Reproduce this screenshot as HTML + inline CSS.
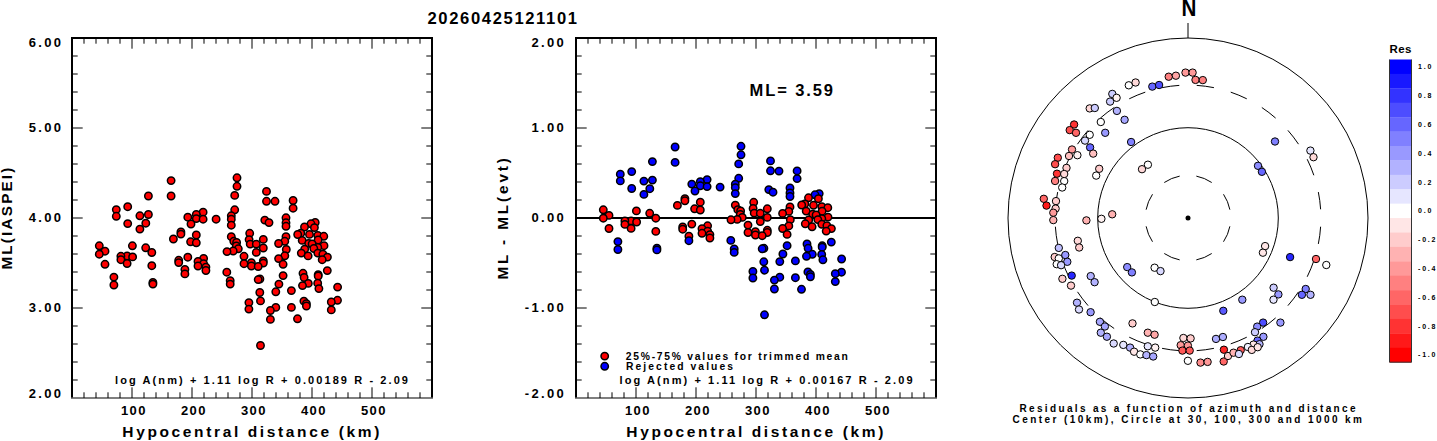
<!DOCTYPE html><html><head><meta charset="utf-8"><style>html,body{margin:0;padding:0;background:#fff;overflow:hidden}svg{display:block}</style></head><body><svg width="1437" height="441" viewBox="0 0 1437 441">
<rect width="1437" height="441" fill="#fff"/>
<g font-family="Liberation Sans, sans-serif" font-weight="bold" fill="#000">
<path d="M84 38v5.7M84 398v-5.7M96 38v5.7M96 398v-5.7M108 38v5.7M108 398v-5.7M120 38v5.7M120 398v-5.7M132 38v10.7M132 398v-10.7M144 38v5.7M144 398v-5.7M156 38v5.7M156 398v-5.7M168 38v5.7M168 398v-5.7M180 38v5.7M180 398v-5.7M192 38v10.7M192 398v-10.7M204 38v5.7M204 398v-5.7M216 38v5.7M216 398v-5.7M228 38v5.7M228 398v-5.7M240 38v5.7M240 398v-5.7M252 38v10.7M252 398v-10.7M264 38v5.7M264 398v-5.7M276 38v5.7M276 398v-5.7M288 38v5.7M288 398v-5.7M300 38v5.7M300 398v-5.7M312 38v10.7M312 398v-10.7M324 38v5.7M324 398v-5.7M336 38v5.7M336 398v-5.7M348 38v5.7M348 398v-5.7M360 38v5.7M360 398v-5.7M372 38v10.7M372 398v-10.7M384 38v5.7M384 398v-5.7M396 38v5.7M396 398v-5.7M408 38v5.7M408 398v-5.7M420 38v5.7M420 398v-5.7M72 56h5.7M432 56h-5.7M72 74h5.7M432 74h-5.7M72 92h5.7M432 92h-5.7M72 110h5.7M432 110h-5.7M72 128h10.7M432 128h-10.7M72 146h5.7M432 146h-5.7M72 164h5.7M432 164h-5.7M72 182h5.7M432 182h-5.7M72 200h5.7M432 200h-5.7M72 218h10.7M432 218h-10.7M72 236h5.7M432 236h-5.7M72 254h5.7M432 254h-5.7M72 272h5.7M432 272h-5.7M72 290h5.7M432 290h-5.7M72 308h10.7M432 308h-10.7M72 326h5.7M432 326h-5.7M72 344h5.7M432 344h-5.7M72 362h5.7M432 362h-5.7M72 380h5.7M432 380h-5.7" stroke="#000" stroke-width="1" fill="none"/>
<path d="M72 397.5V38H432V397.5" stroke="#000" stroke-width="2" fill="none"/>
<path d="M71 398H433" stroke="#000" stroke-width="1.2" fill="none"/>
<path d="M588 38v5.7M588 398v-5.7M600 38v5.7M600 398v-5.7M612 38v5.7M612 398v-5.7M624 38v5.7M624 398v-5.7M636 38v10.7M636 398v-10.7M648 38v5.7M648 398v-5.7M660 38v5.7M660 398v-5.7M672 38v5.7M672 398v-5.7M684 38v5.7M684 398v-5.7M696 38v10.7M696 398v-10.7M708 38v5.7M708 398v-5.7M720 38v5.7M720 398v-5.7M732 38v5.7M732 398v-5.7M744 38v5.7M744 398v-5.7M756 38v10.7M756 398v-10.7M768 38v5.7M768 398v-5.7M780 38v5.7M780 398v-5.7M792 38v5.7M792 398v-5.7M804 38v5.7M804 398v-5.7M816 38v10.7M816 398v-10.7M828 38v5.7M828 398v-5.7M840 38v5.7M840 398v-5.7M852 38v5.7M852 398v-5.7M864 38v5.7M864 398v-5.7M876 38v10.7M876 398v-10.7M888 38v5.7M888 398v-5.7M900 38v5.7M900 398v-5.7M912 38v5.7M912 398v-5.7M924 38v5.7M924 398v-5.7M576 56h5.7M936 56h-5.7M576 74h5.7M936 74h-5.7M576 92h5.7M936 92h-5.7M576 110h5.7M936 110h-5.7M576 128h10.7M936 128h-10.7M576 146h5.7M936 146h-5.7M576 164h5.7M936 164h-5.7M576 182h5.7M936 182h-5.7M576 200h5.7M936 200h-5.7M576 218h10.7M936 218h-10.7M576 236h5.7M936 236h-5.7M576 254h5.7M936 254h-5.7M576 272h5.7M936 272h-5.7M576 290h5.7M936 290h-5.7M576 308h10.7M936 308h-10.7M576 326h5.7M936 326h-5.7M576 344h5.7M936 344h-5.7M576 362h5.7M936 362h-5.7M576 380h5.7M936 380h-5.7" stroke="#000" stroke-width="1" fill="none"/>
<path d="M576 397.5V38H936V397.5" stroke="#000" stroke-width="2" fill="none"/>
<path d="M575 398H937" stroke="#000" stroke-width="1.2" fill="none"/>
<path d="M576 218H936" stroke="#000" stroke-width="2"/>
<circle cx="237" cy="177.8" r="3.7" fill="#f00" stroke="#000" stroke-width="1.5"/>
<circle cx="171.1" cy="180.6" r="3.7" fill="#f00" stroke="#000" stroke-width="1.5"/>
<circle cx="237" cy="186.3" r="3.7" fill="#f00" stroke="#000" stroke-width="1.5"/>
<circle cx="266.5" cy="191.4" r="3.7" fill="#f00" stroke="#000" stroke-width="1.5"/>
<circle cx="234.7" cy="195.4" r="3.7" fill="#f00" stroke="#000" stroke-width="1.5"/>
<circle cx="148.4" cy="196.0" r="3.7" fill="#f00" stroke="#000" stroke-width="1.5"/>
<circle cx="171.1" cy="196.0" r="3.7" fill="#f00" stroke="#000" stroke-width="1.5"/>
<circle cx="293.1" cy="200.5" r="3.7" fill="#f00" stroke="#000" stroke-width="1.5"/>
<circle cx="266.5" cy="201.3" r="3.7" fill="#f00" stroke="#000" stroke-width="1.5"/>
<circle cx="275" cy="201.3" r="3.7" fill="#f00" stroke="#000" stroke-width="1.5"/>
<circle cx="127.7" cy="206.7" r="3.7" fill="#f00" stroke="#000" stroke-width="1.5"/>
<circle cx="293.1" cy="208.2" r="3.7" fill="#f00" stroke="#000" stroke-width="1.5"/>
<circle cx="116.3" cy="209.6" r="3.7" fill="#f00" stroke="#000" stroke-width="1.5"/>
<circle cx="234.7" cy="209.8" r="3.7" fill="#f00" stroke="#000" stroke-width="1.5"/>
<circle cx="203.1" cy="212.2" r="3.7" fill="#f00" stroke="#000" stroke-width="1.5"/>
<circle cx="196.3" cy="214.4" r="3.7" fill="#f00" stroke="#000" stroke-width="1.5"/>
<circle cx="148.4" cy="214.5" r="3.7" fill="#f00" stroke="#000" stroke-width="1.5"/>
<circle cx="139.9" cy="215.8" r="3.7" fill="#f00" stroke="#000" stroke-width="1.5"/>
<circle cx="231.3" cy="215.8" r="3.7" fill="#f00" stroke="#000" stroke-width="1.5"/>
<circle cx="116.3" cy="216.3" r="3.7" fill="#f00" stroke="#000" stroke-width="1.5"/>
<circle cx="187.8" cy="217.2" r="3.7" fill="#f00" stroke="#000" stroke-width="1.5"/>
<circle cx="286" cy="217.8" r="3.7" fill="#f00" stroke="#000" stroke-width="1.5"/>
<circle cx="196.3" cy="218.6" r="3.7" fill="#f00" stroke="#000" stroke-width="1.5"/>
<circle cx="203.1" cy="219.2" r="3.7" fill="#f00" stroke="#000" stroke-width="1.5"/>
<circle cx="216.1" cy="219.2" r="3.7" fill="#f00" stroke="#000" stroke-width="1.5"/>
<circle cx="231.3" cy="219.2" r="3.7" fill="#f00" stroke="#000" stroke-width="1.5"/>
<circle cx="264.8" cy="220.1" r="3.7" fill="#f00" stroke="#000" stroke-width="1.5"/>
<circle cx="315.2" cy="222.5" r="3.7" fill="#f00" stroke="#000" stroke-width="1.5"/>
<circle cx="269" cy="222.6" r="3.7" fill="#f00" stroke="#000" stroke-width="1.5"/>
<circle cx="286" cy="222.8" r="3.7" fill="#f00" stroke="#000" stroke-width="1.5"/>
<circle cx="145.8" cy="223.2" r="3.7" fill="#f00" stroke="#000" stroke-width="1.5"/>
<circle cx="127.7" cy="223.6" r="3.7" fill="#f00" stroke="#000" stroke-width="1.5"/>
<circle cx="311" cy="223.8" r="3.7" fill="#f00" stroke="#000" stroke-width="1.5"/>
<circle cx="191" cy="224" r="3.7" fill="#f00" stroke="#000" stroke-width="1.5"/>
<circle cx="231.3" cy="225.2" r="3.7" fill="#f00" stroke="#000" stroke-width="1.5"/>
<circle cx="286" cy="226.3" r="3.7" fill="#f00" stroke="#000" stroke-width="1.5"/>
<circle cx="304.5" cy="227" r="3.7" fill="#f00" stroke="#000" stroke-width="1.5"/>
<circle cx="314.4" cy="227.6" r="3.7" fill="#f00" stroke="#000" stroke-width="1.5"/>
<circle cx="139.9" cy="229.1" r="3.7" fill="#f00" stroke="#000" stroke-width="1.5"/>
<circle cx="180.9" cy="231.9" r="3.7" fill="#f00" stroke="#000" stroke-width="1.5"/>
<circle cx="300.8" cy="233.2" r="3.7" fill="#f00" stroke="#000" stroke-width="1.5"/>
<circle cx="249.7" cy="233.3" r="3.7" fill="#f00" stroke="#000" stroke-width="1.5"/>
<circle cx="180.9" cy="234.1" r="3.7" fill="#f00" stroke="#000" stroke-width="1.5"/>
<circle cx="309.5" cy="234.4" r="3.7" fill="#f00" stroke="#000" stroke-width="1.5"/>
<circle cx="297.7" cy="234.5" r="3.7" fill="#f00" stroke="#000" stroke-width="1.5"/>
<circle cx="196.3" cy="235" r="3.7" fill="#f00" stroke="#000" stroke-width="1.5"/>
<circle cx="317.8" cy="235.5" r="3.7" fill="#f00" stroke="#000" stroke-width="1.5"/>
<circle cx="323.8" cy="236.3" r="3.7" fill="#f00" stroke="#000" stroke-width="1.5"/>
<circle cx="231.3" cy="236.7" r="3.7" fill="#f00" stroke="#000" stroke-width="1.5"/>
<circle cx="286" cy="236.7" r="3.7" fill="#f00" stroke="#000" stroke-width="1.5"/>
<circle cx="173.4" cy="239" r="3.7" fill="#f00" stroke="#000" stroke-width="1.5"/>
<circle cx="263.3" cy="239.4" r="3.7" fill="#f00" stroke="#000" stroke-width="1.5"/>
<circle cx="249.1" cy="239.6" r="3.7" fill="#f00" stroke="#000" stroke-width="1.5"/>
<circle cx="318.1" cy="240" r="3.7" fill="#f00" stroke="#000" stroke-width="1.5"/>
<circle cx="302.2" cy="240.4" r="3.7" fill="#f00" stroke="#000" stroke-width="1.5"/>
<circle cx="233.8" cy="241.3" r="3.7" fill="#f00" stroke="#000" stroke-width="1.5"/>
<circle cx="284.8" cy="241.3" r="3.7" fill="#f00" stroke="#000" stroke-width="1.5"/>
<circle cx="190.6" cy="241.8" r="3.7" fill="#f00" stroke="#000" stroke-width="1.5"/>
<circle cx="236.6" cy="242.4" r="3.7" fill="#f00" stroke="#000" stroke-width="1.5"/>
<circle cx="196.3" cy="242.8" r="3.7" fill="#f00" stroke="#000" stroke-width="1.5"/>
<circle cx="308.7" cy="243.4" r="3.7" fill="#f00" stroke="#000" stroke-width="1.5"/>
<circle cx="278.6" cy="243.5" r="3.7" fill="#f00" stroke="#000" stroke-width="1.5"/>
<circle cx="312.1" cy="244" r="3.7" fill="#f00" stroke="#000" stroke-width="1.5"/>
<circle cx="250.2" cy="244.1" r="3.7" fill="#f00" stroke="#000" stroke-width="1.5"/>
<circle cx="256.3" cy="244.1" r="3.7" fill="#f00" stroke="#000" stroke-width="1.5"/>
<circle cx="324" cy="245.7" r="3.7" fill="#f00" stroke="#000" stroke-width="1.5"/>
<circle cx="99.3" cy="245.8" r="3.7" fill="#f00" stroke="#000" stroke-width="1.5"/>
<circle cx="132.4" cy="245.8" r="3.7" fill="#f00" stroke="#000" stroke-width="1.5"/>
<circle cx="236.3" cy="245.9" r="3.7" fill="#f00" stroke="#000" stroke-width="1.5"/>
<circle cx="317.8" cy="247.4" r="3.7" fill="#f00" stroke="#000" stroke-width="1.5"/>
<circle cx="145.7" cy="247.8" r="3.7" fill="#f00" stroke="#000" stroke-width="1.5"/>
<circle cx="263.3" cy="248" r="3.7" fill="#f00" stroke="#000" stroke-width="1.5"/>
<circle cx="313.8" cy="248.5" r="3.7" fill="#f00" stroke="#000" stroke-width="1.5"/>
<circle cx="238.3" cy="248.8" r="3.7" fill="#f00" stroke="#000" stroke-width="1.5"/>
<circle cx="304.7" cy="249.1" r="3.7" fill="#f00" stroke="#000" stroke-width="1.5"/>
<circle cx="286.3" cy="249.5" r="3.7" fill="#f00" stroke="#000" stroke-width="1.5"/>
<circle cx="233.2" cy="251" r="3.7" fill="#f00" stroke="#000" stroke-width="1.5"/>
<circle cx="105" cy="251.2" r="3.7" fill="#f00" stroke="#000" stroke-width="1.5"/>
<circle cx="227" cy="251.6" r="3.7" fill="#f00" stroke="#000" stroke-width="1.5"/>
<circle cx="256.3" cy="252.4" r="3.7" fill="#f00" stroke="#000" stroke-width="1.5"/>
<circle cx="151.8" cy="252.5" r="3.7" fill="#f00" stroke="#000" stroke-width="1.5"/>
<circle cx="301.3" cy="253.1" r="3.7" fill="#f00" stroke="#000" stroke-width="1.5"/>
<circle cx="317.8" cy="253.1" r="3.7" fill="#f00" stroke="#000" stroke-width="1.5"/>
<circle cx="99.3" cy="254.2" r="3.7" fill="#f00" stroke="#000" stroke-width="1.5"/>
<circle cx="322.9" cy="254.2" r="3.7" fill="#f00" stroke="#000" stroke-width="1.5"/>
<circle cx="284.8" cy="255.8" r="3.7" fill="#f00" stroke="#000" stroke-width="1.5"/>
<circle cx="308.1" cy="255.9" r="3.7" fill="#f00" stroke="#000" stroke-width="1.5"/>
<circle cx="127.1" cy="256" r="3.7" fill="#f00" stroke="#000" stroke-width="1.5"/>
<circle cx="120.9" cy="256.3" r="3.7" fill="#f00" stroke="#000" stroke-width="1.5"/>
<circle cx="244" cy="256.3" r="3.7" fill="#f00" stroke="#000" stroke-width="1.5"/>
<circle cx="132.6" cy="256.9" r="3.7" fill="#f00" stroke="#000" stroke-width="1.5"/>
<circle cx="327.4" cy="257.1" r="3.7" fill="#f00" stroke="#000" stroke-width="1.5"/>
<circle cx="187.8" cy="257.2" r="3.7" fill="#f00" stroke="#000" stroke-width="1.5"/>
<circle cx="203.6" cy="258.4" r="3.7" fill="#f00" stroke="#000" stroke-width="1.5"/>
<circle cx="278.6" cy="258.6" r="3.7" fill="#f00" stroke="#000" stroke-width="1.5"/>
<circle cx="120.9" cy="259.7" r="3.7" fill="#f00" stroke="#000" stroke-width="1.5"/>
<circle cx="322.2" cy="259.7" r="3.7" fill="#f00" stroke="#000" stroke-width="1.5"/>
<circle cx="178.7" cy="260.3" r="3.7" fill="#f00" stroke="#000" stroke-width="1.5"/>
<circle cx="263.3" cy="260.9" r="3.7" fill="#f00" stroke="#000" stroke-width="1.5"/>
<circle cx="198" cy="261.4" r="3.7" fill="#f00" stroke="#000" stroke-width="1.5"/>
<circle cx="178.7" cy="262.6" r="3.7" fill="#f00" stroke="#000" stroke-width="1.5"/>
<circle cx="251.4" cy="262.6" r="3.7" fill="#f00" stroke="#000" stroke-width="1.5"/>
<circle cx="263.3" cy="263.1" r="3.7" fill="#f00" stroke="#000" stroke-width="1.5"/>
<circle cx="127.1" cy="263.5" r="3.7" fill="#f00" stroke="#000" stroke-width="1.5"/>
<circle cx="203.6" cy="263.7" r="3.7" fill="#f00" stroke="#000" stroke-width="1.5"/>
<circle cx="244" cy="263.7" r="3.7" fill="#f00" stroke="#000" stroke-width="1.5"/>
<circle cx="105" cy="264.3" r="3.7" fill="#f00" stroke="#000" stroke-width="1.5"/>
<circle cx="283.1" cy="264.3" r="3.7" fill="#f00" stroke="#000" stroke-width="1.5"/>
<circle cx="151.8" cy="265.7" r="3.7" fill="#f00" stroke="#000" stroke-width="1.5"/>
<circle cx="198" cy="266" r="3.7" fill="#f00" stroke="#000" stroke-width="1.5"/>
<circle cx="251.4" cy="266" r="3.7" fill="#f00" stroke="#000" stroke-width="1.5"/>
<circle cx="258.2" cy="266.5" r="3.7" fill="#f00" stroke="#000" stroke-width="1.5"/>
<circle cx="205.9" cy="267.1" r="3.7" fill="#f00" stroke="#000" stroke-width="1.5"/>
<circle cx="184.9" cy="269.4" r="3.7" fill="#f00" stroke="#000" stroke-width="1.5"/>
<circle cx="205.9" cy="270.5" r="3.7" fill="#f00" stroke="#000" stroke-width="1.5"/>
<circle cx="327.3" cy="270.6" r="3.7" fill="#f00" stroke="#000" stroke-width="1.5"/>
<circle cx="226.8" cy="272.2" r="3.7" fill="#f00" stroke="#000" stroke-width="1.5"/>
<circle cx="303" cy="273.3" r="3.7" fill="#f00" stroke="#000" stroke-width="1.5"/>
<circle cx="184.9" cy="273.9" r="3.7" fill="#f00" stroke="#000" stroke-width="1.5"/>
<circle cx="318.2" cy="274.6" r="3.7" fill="#f00" stroke="#000" stroke-width="1.5"/>
<circle cx="283.1" cy="275.6" r="3.7" fill="#f00" stroke="#000" stroke-width="1.5"/>
<circle cx="318.2" cy="276" r="3.7" fill="#f00" stroke="#000" stroke-width="1.5"/>
<circle cx="113.9" cy="277.1" r="3.7" fill="#f00" stroke="#000" stroke-width="1.5"/>
<circle cx="304.1" cy="277.5" r="3.7" fill="#f00" stroke="#000" stroke-width="1.5"/>
<circle cx="259.9" cy="279" r="3.7" fill="#f00" stroke="#000" stroke-width="1.5"/>
<circle cx="258.2" cy="279.6" r="3.7" fill="#f00" stroke="#000" stroke-width="1.5"/>
<circle cx="230.2" cy="280.7" r="3.7" fill="#f00" stroke="#000" stroke-width="1.5"/>
<circle cx="152.9" cy="282.4" r="3.7" fill="#f00" stroke="#000" stroke-width="1.5"/>
<circle cx="317.7" cy="283.2" r="3.7" fill="#f00" stroke="#000" stroke-width="1.5"/>
<circle cx="308.3" cy="283.4" r="3.7" fill="#f00" stroke="#000" stroke-width="1.5"/>
<circle cx="152.9" cy="284.1" r="3.7" fill="#f00" stroke="#000" stroke-width="1.5"/>
<circle cx="230.2" cy="284.1" r="3.7" fill="#f00" stroke="#000" stroke-width="1.5"/>
<circle cx="278.9" cy="284.1" r="3.7" fill="#f00" stroke="#000" stroke-width="1.5"/>
<circle cx="113.9" cy="285" r="3.7" fill="#f00" stroke="#000" stroke-width="1.5"/>
<circle cx="302.5" cy="285.6" r="3.7" fill="#f00" stroke="#000" stroke-width="1.5"/>
<circle cx="337.6" cy="287.1" r="3.7" fill="#f00" stroke="#000" stroke-width="1.5"/>
<circle cx="318.9" cy="288.6" r="3.7" fill="#f00" stroke="#000" stroke-width="1.5"/>
<circle cx="291.4" cy="290.6" r="3.7" fill="#f00" stroke="#000" stroke-width="1.5"/>
<circle cx="275.8" cy="291.8" r="3.7" fill="#f00" stroke="#000" stroke-width="1.5"/>
<circle cx="259.8" cy="292.5" r="3.7" fill="#f00" stroke="#000" stroke-width="1.5"/>
<circle cx="337.5" cy="300.3" r="3.7" fill="#f00" stroke="#000" stroke-width="1.5"/>
<circle cx="260.5" cy="300.9" r="3.7" fill="#f00" stroke="#000" stroke-width="1.5"/>
<circle cx="303.9" cy="301.1" r="3.7" fill="#f00" stroke="#000" stroke-width="1.5"/>
<circle cx="331.3" cy="302" r="3.7" fill="#f00" stroke="#000" stroke-width="1.5"/>
<circle cx="248.9" cy="302.6" r="3.7" fill="#f00" stroke="#000" stroke-width="1.5"/>
<circle cx="306.4" cy="303.7" r="3.7" fill="#f00" stroke="#000" stroke-width="1.5"/>
<circle cx="306.4" cy="306" r="3.7" fill="#f00" stroke="#000" stroke-width="1.5"/>
<circle cx="275.8" cy="307.4" r="3.7" fill="#f00" stroke="#000" stroke-width="1.5"/>
<circle cx="291.4" cy="307.4" r="3.7" fill="#f00" stroke="#000" stroke-width="1.5"/>
<circle cx="248.9" cy="309.1" r="3.7" fill="#f00" stroke="#000" stroke-width="1.5"/>
<circle cx="331.3" cy="309.9" r="3.7" fill="#f00" stroke="#000" stroke-width="1.5"/>
<circle cx="270.4" cy="310.5" r="3.7" fill="#f00" stroke="#000" stroke-width="1.5"/>
<circle cx="297.5" cy="318.8" r="3.7" fill="#f00" stroke="#000" stroke-width="1.5"/>
<circle cx="270.4" cy="319.4" r="3.7" fill="#f00" stroke="#000" stroke-width="1.5"/>
<circle cx="260.5" cy="345.5" r="3.7" fill="#f00" stroke="#000" stroke-width="1.5"/>
<circle cx="741.0" cy="146.3" r="3.7" fill="#00f" stroke="#000" stroke-width="1.5"/>
<circle cx="675.1" cy="147.0" r="3.7" fill="#00f" stroke="#000" stroke-width="1.5"/>
<circle cx="741.0" cy="154.8" r="3.7" fill="#00f" stroke="#000" stroke-width="1.5"/>
<circle cx="770.5" cy="160.9" r="3.7" fill="#00f" stroke="#000" stroke-width="1.5"/>
<circle cx="652.4" cy="161.6" r="3.7" fill="#00f" stroke="#000" stroke-width="1.5"/>
<circle cx="675.1" cy="162.4" r="3.7" fill="#00f" stroke="#000" stroke-width="1.5"/>
<circle cx="738.7" cy="163.9" r="3.7" fill="#00f" stroke="#000" stroke-width="1.5"/>
<circle cx="770.5" cy="170.8" r="3.7" fill="#00f" stroke="#000" stroke-width="1.5"/>
<circle cx="797.1" cy="170.9" r="3.7" fill="#00f" stroke="#000" stroke-width="1.5"/>
<circle cx="779.0" cy="171.1" r="3.7" fill="#00f" stroke="#000" stroke-width="1.5"/>
<circle cx="631.7" cy="171.6" r="3.7" fill="#00f" stroke="#000" stroke-width="1.5"/>
<circle cx="620.3" cy="174.2" r="3.7" fill="#00f" stroke="#000" stroke-width="1.5"/>
<circle cx="738.7" cy="178.3" r="3.7" fill="#00f" stroke="#000" stroke-width="1.5"/>
<circle cx="797.1" cy="178.6" r="3.7" fill="#00f" stroke="#000" stroke-width="1.5"/>
<circle cx="707.1" cy="179.6" r="3.7" fill="#00f" stroke="#000" stroke-width="1.5"/>
<circle cx="652.4" cy="180.1" r="3.7" fill="#00f" stroke="#000" stroke-width="1.5"/>
<circle cx="620.3" cy="180.9" r="3.7" fill="#00f" stroke="#000" stroke-width="1.5"/>
<circle cx="643.9" cy="181.1" r="3.7" fill="#00f" stroke="#000" stroke-width="1.5"/>
<circle cx="700.3" cy="181.6" r="3.7" fill="#00f" stroke="#000" stroke-width="1.5"/>
<circle cx="691.8" cy="184.1" r="3.7" fill="#00f" stroke="#000" stroke-width="1.5"/>
<circle cx="735.3" cy="184.2" r="3.7" fill="#00f" stroke="#000" stroke-width="1.5"/>
<circle cx="700.3" cy="185.8" r="3.7" fill="#00f" stroke="#000" stroke-width="1.5"/>
<circle cx="707.1" cy="186.6" r="3.7" fill="#00f" stroke="#000" stroke-width="1.5"/>
<circle cx="720.1" cy="187.1" r="3.7" fill="#00f" stroke="#000" stroke-width="1.5"/>
<circle cx="735.3" cy="187.6" r="3.7" fill="#00f" stroke="#000" stroke-width="1.5"/>
<circle cx="790.0" cy="188.0" r="3.7" fill="#00f" stroke="#000" stroke-width="1.5"/>
<circle cx="631.7" cy="188.5" r="3.7" fill="#00f" stroke="#000" stroke-width="1.5"/>
<circle cx="649.8" cy="188.7" r="3.7" fill="#00f" stroke="#000" stroke-width="1.5"/>
<circle cx="768.8" cy="189.6" r="3.7" fill="#00f" stroke="#000" stroke-width="1.5"/>
<circle cx="695.0" cy="191.0" r="3.7" fill="#00f" stroke="#000" stroke-width="1.5"/>
<circle cx="773.0" cy="192.2" r="3.7" fill="#00f" stroke="#000" stroke-width="1.5"/>
<circle cx="790.0" cy="193.0" r="3.7" fill="#00f" stroke="#000" stroke-width="1.5"/>
<circle cx="735.3" cy="193.6" r="3.7" fill="#00f" stroke="#000" stroke-width="1.5"/>
<circle cx="819.2" cy="193.6" r="3.7" fill="#00f" stroke="#000" stroke-width="1.5"/>
<circle cx="643.9" cy="194.4" r="3.7" fill="#00f" stroke="#000" stroke-width="1.5"/>
<circle cx="815.0" cy="194.8" r="3.7" fill="#00f" stroke="#000" stroke-width="1.5"/>
<circle cx="790.0" cy="196.5" r="3.7" fill="#00f" stroke="#000" stroke-width="1.5"/>
<circle cx="808.5" cy="197.8" r="3.7" fill="#f00" stroke="#000" stroke-width="1.5"/>
<circle cx="684.9" cy="198.6" r="3.7" fill="#f00" stroke="#000" stroke-width="1.5"/>
<circle cx="818.4" cy="198.7" r="3.7" fill="#f00" stroke="#000" stroke-width="1.5"/>
<circle cx="684.9" cy="200.8" r="3.7" fill="#f00" stroke="#000" stroke-width="1.5"/>
<circle cx="700.3" cy="202.2" r="3.7" fill="#f00" stroke="#000" stroke-width="1.5"/>
<circle cx="753.7" cy="202.3" r="3.7" fill="#f00" stroke="#000" stroke-width="1.5"/>
<circle cx="804.8" cy="203.9" r="3.7" fill="#f00" stroke="#000" stroke-width="1.5"/>
<circle cx="801.7" cy="205.0" r="3.7" fill="#f00" stroke="#000" stroke-width="1.5"/>
<circle cx="735.3" cy="205.1" r="3.7" fill="#f00" stroke="#000" stroke-width="1.5"/>
<circle cx="813.5" cy="205.3" r="3.7" fill="#f00" stroke="#000" stroke-width="1.5"/>
<circle cx="677.4" cy="205.4" r="3.7" fill="#f00" stroke="#000" stroke-width="1.5"/>
<circle cx="821.8" cy="206.7" r="3.7" fill="#f00" stroke="#000" stroke-width="1.5"/>
<circle cx="790.0" cy="206.9" r="3.7" fill="#f00" stroke="#000" stroke-width="1.5"/>
<circle cx="827.8" cy="207.7" r="3.7" fill="#f00" stroke="#000" stroke-width="1.5"/>
<circle cx="753.1" cy="208.5" r="3.7" fill="#f00" stroke="#000" stroke-width="1.5"/>
<circle cx="767.3" cy="208.8" r="3.7" fill="#f00" stroke="#000" stroke-width="1.5"/>
<circle cx="694.6" cy="208.8" r="3.7" fill="#f00" stroke="#000" stroke-width="1.5"/>
<circle cx="737.8" cy="209.7" r="3.7" fill="#f00" stroke="#000" stroke-width="1.5"/>
<circle cx="603.3" cy="209.8" r="3.7" fill="#f00" stroke="#000" stroke-width="1.5"/>
<circle cx="700.3" cy="210.0" r="3.7" fill="#f00" stroke="#000" stroke-width="1.5"/>
<circle cx="636.4" cy="210.9" r="3.7" fill="#f00" stroke="#000" stroke-width="1.5"/>
<circle cx="740.6" cy="210.9" r="3.7" fill="#f00" stroke="#000" stroke-width="1.5"/>
<circle cx="806.2" cy="211.1" r="3.7" fill="#f00" stroke="#000" stroke-width="1.5"/>
<circle cx="822.1" cy="211.2" r="3.7" fill="#f00" stroke="#000" stroke-width="1.5"/>
<circle cx="788.8" cy="211.4" r="3.7" fill="#f00" stroke="#000" stroke-width="1.5"/>
<circle cx="754.2" cy="213.1" r="3.7" fill="#f00" stroke="#000" stroke-width="1.5"/>
<circle cx="760.3" cy="213.3" r="3.7" fill="#f00" stroke="#000" stroke-width="1.5"/>
<circle cx="649.7" cy="213.3" r="3.7" fill="#f00" stroke="#000" stroke-width="1.5"/>
<circle cx="782.6" cy="213.4" r="3.7" fill="#f00" stroke="#000" stroke-width="1.5"/>
<circle cx="812.7" cy="214.3" r="3.7" fill="#f00" stroke="#000" stroke-width="1.5"/>
<circle cx="740.3" cy="214.4" r="3.7" fill="#f00" stroke="#000" stroke-width="1.5"/>
<circle cx="816.1" cy="215.0" r="3.7" fill="#f00" stroke="#000" stroke-width="1.5"/>
<circle cx="609.0" cy="215.4" r="3.7" fill="#f00" stroke="#000" stroke-width="1.5"/>
<circle cx="828.0" cy="217.1" r="3.7" fill="#f00" stroke="#000" stroke-width="1.5"/>
<circle cx="742.3" cy="217.4" r="3.7" fill="#f00" stroke="#000" stroke-width="1.5"/>
<circle cx="767.3" cy="217.4" r="3.7" fill="#f00" stroke="#000" stroke-width="1.5"/>
<circle cx="603.3" cy="218.2" r="3.7" fill="#f00" stroke="#000" stroke-width="1.5"/>
<circle cx="655.8" cy="218.2" r="3.7" fill="#f00" stroke="#000" stroke-width="1.5"/>
<circle cx="821.8" cy="218.6" r="3.7" fill="#f00" stroke="#000" stroke-width="1.5"/>
<circle cx="737.2" cy="219.4" r="3.7" fill="#f00" stroke="#000" stroke-width="1.5"/>
<circle cx="817.8" cy="219.6" r="3.7" fill="#f00" stroke="#000" stroke-width="1.5"/>
<circle cx="790.3" cy="219.7" r="3.7" fill="#f00" stroke="#000" stroke-width="1.5"/>
<circle cx="731.0" cy="219.8" r="3.7" fill="#f00" stroke="#000" stroke-width="1.5"/>
<circle cx="808.7" cy="219.9" r="3.7" fill="#f00" stroke="#000" stroke-width="1.5"/>
<circle cx="631.1" cy="220.9" r="3.7" fill="#f00" stroke="#000" stroke-width="1.5"/>
<circle cx="624.9" cy="221.0" r="3.7" fill="#f00" stroke="#000" stroke-width="1.5"/>
<circle cx="760.3" cy="221.6" r="3.7" fill="#f00" stroke="#000" stroke-width="1.5"/>
<circle cx="636.6" cy="222.0" r="3.7" fill="#f00" stroke="#000" stroke-width="1.5"/>
<circle cx="805.3" cy="223.8" r="3.7" fill="#f00" stroke="#000" stroke-width="1.5"/>
<circle cx="691.8" cy="224.1" r="3.7" fill="#f00" stroke="#000" stroke-width="1.5"/>
<circle cx="821.8" cy="224.3" r="3.7" fill="#f00" stroke="#000" stroke-width="1.5"/>
<circle cx="624.9" cy="224.4" r="3.7" fill="#f00" stroke="#000" stroke-width="1.5"/>
<circle cx="748.0" cy="225.1" r="3.7" fill="#f00" stroke="#000" stroke-width="1.5"/>
<circle cx="826.9" cy="225.6" r="3.7" fill="#f00" stroke="#000" stroke-width="1.5"/>
<circle cx="707.6" cy="225.8" r="3.7" fill="#f00" stroke="#000" stroke-width="1.5"/>
<circle cx="788.8" cy="225.9" r="3.7" fill="#f00" stroke="#000" stroke-width="1.5"/>
<circle cx="812.1" cy="226.8" r="3.7" fill="#f00" stroke="#000" stroke-width="1.5"/>
<circle cx="682.7" cy="226.9" r="3.7" fill="#f00" stroke="#000" stroke-width="1.5"/>
<circle cx="631.1" cy="228.4" r="3.7" fill="#f00" stroke="#000" stroke-width="1.5"/>
<circle cx="609.0" cy="228.5" r="3.7" fill="#f00" stroke="#000" stroke-width="1.5"/>
<circle cx="782.6" cy="228.5" r="3.7" fill="#f00" stroke="#000" stroke-width="1.5"/>
<circle cx="831.4" cy="228.6" r="3.7" fill="#f00" stroke="#000" stroke-width="1.5"/>
<circle cx="702.0" cy="228.7" r="3.7" fill="#f00" stroke="#000" stroke-width="1.5"/>
<circle cx="682.7" cy="229.2" r="3.7" fill="#f00" stroke="#000" stroke-width="1.5"/>
<circle cx="767.3" cy="230.3" r="3.7" fill="#f00" stroke="#000" stroke-width="1.5"/>
<circle cx="826.2" cy="231.1" r="3.7" fill="#f00" stroke="#000" stroke-width="1.5"/>
<circle cx="707.6" cy="231.1" r="3.7" fill="#f00" stroke="#000" stroke-width="1.5"/>
<circle cx="655.8" cy="231.4" r="3.7" fill="#f00" stroke="#000" stroke-width="1.5"/>
<circle cx="755.4" cy="231.6" r="3.7" fill="#f00" stroke="#000" stroke-width="1.5"/>
<circle cx="748.0" cy="232.5" r="3.7" fill="#f00" stroke="#000" stroke-width="1.5"/>
<circle cx="767.3" cy="232.5" r="3.7" fill="#f00" stroke="#000" stroke-width="1.5"/>
<circle cx="702.0" cy="233.3" r="3.7" fill="#f00" stroke="#000" stroke-width="1.5"/>
<circle cx="787.1" cy="234.4" r="3.7" fill="#f00" stroke="#000" stroke-width="1.5"/>
<circle cx="709.9" cy="234.6" r="3.7" fill="#f00" stroke="#000" stroke-width="1.5"/>
<circle cx="755.4" cy="235.0" r="3.7" fill="#f00" stroke="#000" stroke-width="1.5"/>
<circle cx="762.2" cy="235.7" r="3.7" fill="#f00" stroke="#000" stroke-width="1.5"/>
<circle cx="688.9" cy="236.2" r="3.7" fill="#f00" stroke="#000" stroke-width="1.5"/>
<circle cx="709.9" cy="238.0" r="3.7" fill="#f00" stroke="#000" stroke-width="1.5"/>
<circle cx="730.8" cy="240.4" r="3.7" fill="#00f" stroke="#000" stroke-width="1.5"/>
<circle cx="688.9" cy="240.7" r="3.7" fill="#00f" stroke="#000" stroke-width="1.5"/>
<circle cx="617.9" cy="241.6" r="3.7" fill="#00f" stroke="#000" stroke-width="1.5"/>
<circle cx="831.3" cy="242.1" r="3.7" fill="#00f" stroke="#000" stroke-width="1.5"/>
<circle cx="807.0" cy="244.0" r="3.7" fill="#00f" stroke="#000" stroke-width="1.5"/>
<circle cx="787.1" cy="245.7" r="3.7" fill="#00f" stroke="#000" stroke-width="1.5"/>
<circle cx="822.2" cy="245.8" r="3.7" fill="#00f" stroke="#000" stroke-width="1.5"/>
<circle cx="822.2" cy="247.2" r="3.7" fill="#00f" stroke="#000" stroke-width="1.5"/>
<circle cx="656.9" cy="248.2" r="3.7" fill="#00f" stroke="#000" stroke-width="1.5"/>
<circle cx="808.1" cy="248.3" r="3.7" fill="#00f" stroke="#000" stroke-width="1.5"/>
<circle cx="763.9" cy="248.3" r="3.7" fill="#00f" stroke="#000" stroke-width="1.5"/>
<circle cx="762.2" cy="248.8" r="3.7" fill="#00f" stroke="#000" stroke-width="1.5"/>
<circle cx="734.2" cy="249.0" r="3.7" fill="#00f" stroke="#000" stroke-width="1.5"/>
<circle cx="617.9" cy="249.5" r="3.7" fill="#00f" stroke="#000" stroke-width="1.5"/>
<circle cx="656.9" cy="249.9" r="3.7" fill="#00f" stroke="#000" stroke-width="1.5"/>
<circle cx="734.2" cy="252.4" r="3.7" fill="#00f" stroke="#000" stroke-width="1.5"/>
<circle cx="782.9" cy="254.0" r="3.7" fill="#00f" stroke="#000" stroke-width="1.5"/>
<circle cx="812.3" cy="254.3" r="3.7" fill="#00f" stroke="#000" stroke-width="1.5"/>
<circle cx="821.7" cy="254.4" r="3.7" fill="#00f" stroke="#000" stroke-width="1.5"/>
<circle cx="806.5" cy="256.3" r="3.7" fill="#00f" stroke="#000" stroke-width="1.5"/>
<circle cx="841.6" cy="259.0" r="3.7" fill="#00f" stroke="#000" stroke-width="1.5"/>
<circle cx="822.9" cy="259.8" r="3.7" fill="#00f" stroke="#000" stroke-width="1.5"/>
<circle cx="795.4" cy="260.9" r="3.7" fill="#00f" stroke="#000" stroke-width="1.5"/>
<circle cx="779.8" cy="261.6" r="3.7" fill="#00f" stroke="#000" stroke-width="1.5"/>
<circle cx="763.8" cy="261.8" r="3.7" fill="#00f" stroke="#000" stroke-width="1.5"/>
<circle cx="764.5" cy="270.2" r="3.7" fill="#00f" stroke="#000" stroke-width="1.5"/>
<circle cx="752.9" cy="271.5" r="3.7" fill="#00f" stroke="#000" stroke-width="1.5"/>
<circle cx="807.9" cy="271.9" r="3.7" fill="#00f" stroke="#000" stroke-width="1.5"/>
<circle cx="841.5" cy="272.2" r="3.7" fill="#00f" stroke="#000" stroke-width="1.5"/>
<circle cx="835.3" cy="273.7" r="3.7" fill="#00f" stroke="#000" stroke-width="1.5"/>
<circle cx="810.4" cy="274.5" r="3.7" fill="#00f" stroke="#000" stroke-width="1.5"/>
<circle cx="810.4" cy="276.8" r="3.7" fill="#00f" stroke="#000" stroke-width="1.5"/>
<circle cx="779.8" cy="277.2" r="3.7" fill="#00f" stroke="#000" stroke-width="1.5"/>
<circle cx="795.4" cy="277.7" r="3.7" fill="#00f" stroke="#000" stroke-width="1.5"/>
<circle cx="752.9" cy="278.0" r="3.7" fill="#00f" stroke="#000" stroke-width="1.5"/>
<circle cx="774.4" cy="280.1" r="3.7" fill="#00f" stroke="#000" stroke-width="1.5"/>
<circle cx="835.3" cy="281.6" r="3.7" fill="#00f" stroke="#000" stroke-width="1.5"/>
<circle cx="774.4" cy="289.0" r="3.7" fill="#00f" stroke="#000" stroke-width="1.5"/>
<circle cx="801.5" cy="289.3" r="3.7" fill="#00f" stroke="#000" stroke-width="1.5"/>
<circle cx="764.5" cy="314.8" r="3.7" fill="#00f" stroke="#000" stroke-width="1.5"/>
</g>
<circle cx="1188" cy="218" r="180" fill="none" stroke="#000" stroke-width="1"/>
<circle cx="1188" cy="218" r="90.3" fill="none" stroke="#000" stroke-width="1"/>
<path d="M1196.69 85.38A132.9 132.9 0 0 1 1213.93 87.65M1230.72 92.15A132.9 132.9 0 0 1 1246.78 98.81M1261.84 107.50A132.9 132.9 0 0 1 1275.63 118.08M1287.92 130.37A132.9 132.9 0 0 1 1298.50 144.16M1307.19 159.22A132.9 132.9 0 0 1 1313.85 175.28M1318.35 192.07A132.9 132.9 0 0 1 1320.62 209.31M1320.62 226.69A132.9 132.9 0 0 1 1318.35 243.93M1313.85 260.72A132.9 132.9 0 0 1 1307.19 276.78M1298.50 291.84A132.9 132.9 0 0 1 1287.92 305.63M1275.63 317.92A132.9 132.9 0 0 1 1261.84 328.50M1246.78 337.19A132.9 132.9 0 0 1 1230.72 343.85M1213.93 348.35A132.9 132.9 0 0 1 1196.69 350.62M1179.31 350.62A132.9 132.9 0 0 1 1162.07 348.35M1145.28 343.85A132.9 132.9 0 0 1 1129.22 337.19M1114.16 328.50A132.9 132.9 0 0 1 1100.37 317.92M1088.08 305.63A132.9 132.9 0 0 1 1077.50 291.84M1068.81 276.78A132.9 132.9 0 0 1 1062.15 260.72M1057.65 243.93A132.9 132.9 0 0 1 1055.38 226.69M1055.38 209.31A132.9 132.9 0 0 1 1057.65 192.07M1062.15 175.28A132.9 132.9 0 0 1 1068.81 159.22M1077.50 144.16A132.9 132.9 0 0 1 1088.08 130.37M1100.37 118.08A132.9 132.9 0 0 1 1114.16 107.50M1129.22 98.81A132.9 132.9 0 0 1 1145.28 92.15M1162.07 87.65A132.9 132.9 0 0 1 1179.31 85.38" fill="none" stroke="#000" stroke-width="1"/>
<path d="M1196.33 176.12A42.7 42.7 0 0 1 1211.72 182.50M1223.50 194.28A42.7 42.7 0 0 1 1229.88 209.67M1229.88 226.33A42.7 42.7 0 0 1 1223.50 241.72M1211.72 253.50A42.7 42.7 0 0 1 1196.33 259.88M1179.67 259.88A42.7 42.7 0 0 1 1164.28 253.50M1152.50 241.72A42.7 42.7 0 0 1 1146.12 226.33M1146.12 209.67A42.7 42.7 0 0 1 1152.50 194.28M1164.28 182.50A42.7 42.7 0 0 1 1179.67 176.12" fill="none" stroke="#000" stroke-width="1"/>
<circle cx="1188" cy="218" r="2.5" fill="#000"/>
<path d="M1188 23V38" stroke="#000" stroke-width="1"/>
<circle cx="1128.8" cy="85.3" r="3.7" fill="rgb(255,255,255)" stroke="#000" stroke-width="1"/>
<circle cx="1135.6" cy="82.5" r="3.7" fill="rgb(255,217,217)" stroke="#000" stroke-width="1"/>
<circle cx="1152.3" cy="86.6" r="3.7" fill="rgb(102,102,255)" stroke="#000" stroke-width="1"/>
<circle cx="1159.1" cy="85.0" r="3.7" fill="rgb(77,77,255)" stroke="#000" stroke-width="1"/>
<circle cx="1168.7" cy="76.7" r="3.7" fill="rgb(255,128,128)" stroke="#000" stroke-width="1"/>
<circle cx="1175.9" cy="75.7" r="3.7" fill="rgb(255,166,166)" stroke="#000" stroke-width="1"/>
<circle cx="1185.5" cy="72.6" r="3.7" fill="rgb(255,153,153)" stroke="#000" stroke-width="1"/>
<circle cx="1192.6" cy="72.6" r="3.7" fill="rgb(255,153,153)" stroke="#000" stroke-width="1"/>
<circle cx="1195.5" cy="79.9" r="3.7" fill="rgb(255,128,128)" stroke="#000" stroke-width="1"/>
<circle cx="1202.8" cy="80.1" r="3.7" fill="rgb(255,128,128)" stroke="#000" stroke-width="1"/>
<circle cx="1112.3" cy="93.9" r="3.7" fill="rgb(204,204,255)" stroke="#000" stroke-width="1"/>
<circle cx="1116.6" cy="97.8" r="3.7" fill="rgb(255,242,242)" stroke="#000" stroke-width="1"/>
<circle cx="1110.1" cy="101.6" r="3.7" fill="rgb(204,204,255)" stroke="#000" stroke-width="1"/>
<circle cx="1089.7" cy="108.4" r="3.7" fill="rgb(255,217,217)" stroke="#000" stroke-width="1"/>
<circle cx="1094.8" cy="108.0" r="3.7" fill="rgb(204,204,255)" stroke="#000" stroke-width="1"/>
<circle cx="1116.9" cy="110.9" r="3.7" fill="rgb(178,178,255)" stroke="#000" stroke-width="1"/>
<circle cx="1124.6" cy="119.8" r="3.7" fill="rgb(166,166,255)" stroke="#000" stroke-width="1"/>
<circle cx="1100.8" cy="122.0" r="3.7" fill="rgb(255,255,255)" stroke="#000" stroke-width="1"/>
<circle cx="1074.1" cy="124.5" r="3.7" fill="rgb(255,51,51)" stroke="#000" stroke-width="1"/>
<circle cx="1069.7" cy="130.1" r="3.7" fill="rgb(255,77,77)" stroke="#000" stroke-width="1"/>
<circle cx="1076.0" cy="132.8" r="3.7" fill="rgb(255,102,102)" stroke="#000" stroke-width="1"/>
<circle cx="1089.7" cy="134.8" r="3.7" fill="rgb(255,255,255)" stroke="#000" stroke-width="1"/>
<circle cx="1105.2" cy="132.8" r="3.7" fill="rgb(153,153,255)" stroke="#000" stroke-width="1"/>
<circle cx="1275.0" cy="141.5" r="3.7" fill="rgb(128,128,255)" stroke="#000" stroke-width="1"/>
<circle cx="1310.4" cy="150.6" r="3.7" fill="rgb(230,230,255)" stroke="#000" stroke-width="1"/>
<circle cx="1313.5" cy="157.2" r="3.7" fill="rgb(255,217,217)" stroke="#000" stroke-width="1"/>
<circle cx="1258.0" cy="165.8" r="3.7" fill="rgb(140,140,255)" stroke="#000" stroke-width="1"/>
<circle cx="1261.9" cy="171.8" r="3.7" fill="rgb(102,102,255)" stroke="#000" stroke-width="1"/>
<circle cx="1265.1" cy="246.1" r="3.7" fill="rgb(255,230,230)" stroke="#000" stroke-width="1"/>
<circle cx="1262.9" cy="252.7" r="3.7" fill="rgb(255,230,230)" stroke="#000" stroke-width="1"/>
<circle cx="1290.1" cy="257.1" r="3.7" fill="rgb(38,38,255)" stroke="#000" stroke-width="1"/>
<circle cx="1316.0" cy="259.0" r="3.7" fill="rgb(255,102,102)" stroke="#000" stroke-width="1"/>
<circle cx="1326.3" cy="265.0" r="3.7" fill="rgb(255,255,255)" stroke="#000" stroke-width="1"/>
<circle cx="1273.6" cy="287.7" r="3.7" fill="rgb(204,204,255)" stroke="#000" stroke-width="1"/>
<circle cx="1278.4" cy="294.4" r="3.7" fill="rgb(153,153,255)" stroke="#000" stroke-width="1"/>
<circle cx="1273.5" cy="299.7" r="3.7" fill="rgb(230,230,255)" stroke="#000" stroke-width="1"/>
<circle cx="1305.7" cy="289.0" r="3.7" fill="rgb(128,128,255)" stroke="#000" stroke-width="1"/>
<circle cx="1301.9" cy="294.8" r="3.7" fill="rgb(102,102,255)" stroke="#000" stroke-width="1"/>
<circle cx="1310.5" cy="294.8" r="3.7" fill="rgb(178,178,255)" stroke="#000" stroke-width="1"/>
<circle cx="1242.3" cy="299.7" r="3.7" fill="rgb(153,153,255)" stroke="#000" stroke-width="1"/>
<circle cx="1223.3" cy="310.8" r="3.7" fill="rgb(89,89,255)" stroke="#000" stroke-width="1"/>
<circle cx="1280.4" cy="322.6" r="3.7" fill="rgb(153,153,255)" stroke="#000" stroke-width="1"/>
<circle cx="1263.1" cy="322.6" r="3.7" fill="rgb(77,77,255)" stroke="#000" stroke-width="1"/>
<circle cx="1257.2" cy="326.6" r="3.7" fill="rgb(140,140,255)" stroke="#000" stroke-width="1"/>
<circle cx="1255.0" cy="332.2" r="3.7" fill="rgb(204,204,255)" stroke="#000" stroke-width="1"/>
<circle cx="1263.4" cy="336.8" r="3.7" fill="rgb(153,153,255)" stroke="#000" stroke-width="1"/>
<circle cx="1257.5" cy="340.6" r="3.7" fill="rgb(102,102,255)" stroke="#000" stroke-width="1"/>
<circle cx="1259.5" cy="344.2" r="3.7" fill="rgb(178,178,255)" stroke="#000" stroke-width="1"/>
<circle cx="1253.5" cy="344.6" r="3.7" fill="rgb(255,230,230)" stroke="#000" stroke-width="1"/>
<circle cx="1247.9" cy="347.0" r="3.7" fill="rgb(242,242,255)" stroke="#000" stroke-width="1"/>
<circle cx="1216.0" cy="338.9" r="3.7" fill="rgb(173,173,255)" stroke="#000" stroke-width="1"/>
<circle cx="1222.9" cy="337.0" r="3.7" fill="rgb(173,173,255)" stroke="#000" stroke-width="1"/>
<circle cx="1183.4" cy="338.0" r="3.7" fill="rgb(255,217,217)" stroke="#000" stroke-width="1"/>
<circle cx="1190.6" cy="338.4" r="3.7" fill="rgb(255,204,204)" stroke="#000" stroke-width="1"/>
<circle cx="1180.7" cy="345.2" r="3.7" fill="rgb(255,153,153)" stroke="#000" stroke-width="1"/>
<circle cx="1187.9" cy="345.6" r="3.7" fill="rgb(255,153,153)" stroke="#000" stroke-width="1"/>
<circle cx="1182.4" cy="350.6" r="3.7" fill="rgb(255,89,89)" stroke="#000" stroke-width="1"/>
<circle cx="1189.7" cy="350.6" r="3.7" fill="rgb(255,89,89)" stroke="#000" stroke-width="1"/>
<circle cx="1187.9" cy="360.8" r="3.7" fill="rgb(255,255,255)" stroke="#000" stroke-width="1"/>
<circle cx="1200.5" cy="362.6" r="3.7" fill="rgb(255,140,140)" stroke="#000" stroke-width="1"/>
<circle cx="1207.6" cy="361.9" r="3.7" fill="rgb(255,153,153)" stroke="#000" stroke-width="1"/>
<circle cx="1223.9" cy="349.7" r="3.7" fill="rgb(255,38,38)" stroke="#000" stroke-width="1"/>
<circle cx="1223.7" cy="361.5" r="3.7" fill="rgb(255,102,102)" stroke="#000" stroke-width="1"/>
<circle cx="1228.0" cy="356.0" r="3.7" fill="rgb(255,204,204)" stroke="#000" stroke-width="1"/>
<circle cx="1233.5" cy="352.7" r="3.7" fill="rgb(255,178,178)" stroke="#000" stroke-width="1"/>
<circle cx="1240.7" cy="350.2" r="3.7" fill="rgb(255,89,89)" stroke="#000" stroke-width="1"/>
<circle cx="1238.9" cy="354.0" r="3.7" fill="rgb(217,217,255)" stroke="#000" stroke-width="1"/>
<circle cx="1251.8" cy="349.9" r="3.7" fill="rgb(255,217,217)" stroke="#000" stroke-width="1"/>
<circle cx="1257.7" cy="347.2" r="3.7" fill="rgb(255,230,230)" stroke="#000" stroke-width="1"/>
<circle cx="1077.0" cy="302.7" r="3.7" fill="rgb(178,178,255)" stroke="#000" stroke-width="1"/>
<circle cx="1079.0" cy="309.5" r="3.7" fill="rgb(217,217,255)" stroke="#000" stroke-width="1"/>
<circle cx="1090.6" cy="312.2" r="3.7" fill="rgb(153,153,255)" stroke="#000" stroke-width="1"/>
<circle cx="1154.8" cy="302.0" r="3.7" fill="rgb(255,255,255)" stroke="#000" stroke-width="1"/>
<circle cx="1099.9" cy="321.8" r="3.7" fill="rgb(166,166,255)" stroke="#000" stroke-width="1"/>
<circle cx="1104.9" cy="326.5" r="3.7" fill="rgb(166,166,255)" stroke="#000" stroke-width="1"/>
<circle cx="1100.8" cy="332.7" r="3.7" fill="rgb(178,178,255)" stroke="#000" stroke-width="1"/>
<circle cx="1106.9" cy="336.7" r="3.7" fill="rgb(166,166,255)" stroke="#000" stroke-width="1"/>
<circle cx="1113.7" cy="343.5" r="3.7" fill="rgb(217,217,255)" stroke="#000" stroke-width="1"/>
<circle cx="1123.3" cy="344.9" r="3.7" fill="rgb(230,230,255)" stroke="#000" stroke-width="1"/>
<circle cx="1130.1" cy="347.6" r="3.7" fill="rgb(178,178,255)" stroke="#000" stroke-width="1"/>
<circle cx="1134.1" cy="351.7" r="3.7" fill="rgb(255,230,230)" stroke="#000" stroke-width="1"/>
<circle cx="1140.3" cy="354.4" r="3.7" fill="rgb(255,255,255)" stroke="#000" stroke-width="1"/>
<circle cx="1146.4" cy="355.1" r="3.7" fill="rgb(178,178,255)" stroke="#000" stroke-width="1"/>
<circle cx="1153.2" cy="356.5" r="3.7" fill="rgb(166,166,255)" stroke="#000" stroke-width="1"/>
<circle cx="1147.8" cy="346.3" r="3.7" fill="rgb(230,230,255)" stroke="#000" stroke-width="1"/>
<circle cx="1155.2" cy="347.6" r="3.7" fill="rgb(255,242,242)" stroke="#000" stroke-width="1"/>
<circle cx="1132.5" cy="323.4" r="3.7" fill="rgb(255,204,204)" stroke="#000" stroke-width="1"/>
<circle cx="1147.8" cy="332.7" r="3.7" fill="rgb(255,178,178)" stroke="#000" stroke-width="1"/>
<circle cx="1154.6" cy="334.7" r="3.7" fill="rgb(255,166,166)" stroke="#000" stroke-width="1"/>
<circle cx="1077.8" cy="240.8" r="3.7" fill="rgb(255,217,217)" stroke="#000" stroke-width="1"/>
<circle cx="1079.2" cy="247.5" r="3.7" fill="rgb(255,204,204)" stroke="#000" stroke-width="1"/>
<circle cx="1058.8" cy="247.9" r="3.7" fill="rgb(191,191,255)" stroke="#000" stroke-width="1"/>
<circle cx="1054.7" cy="257.0" r="3.7" fill="rgb(255,204,204)" stroke="#000" stroke-width="1"/>
<circle cx="1058.8" cy="258.4" r="3.7" fill="rgb(255,255,255)" stroke="#000" stroke-width="1"/>
<circle cx="1065.3" cy="255.0" r="3.7" fill="rgb(153,153,255)" stroke="#000" stroke-width="1"/>
<circle cx="1067.3" cy="261.8" r="3.7" fill="rgb(153,153,255)" stroke="#000" stroke-width="1"/>
<circle cx="1056.7" cy="264.2" r="3.7" fill="rgb(255,255,255)" stroke="#000" stroke-width="1"/>
<circle cx="1061.1" cy="265.2" r="3.7" fill="rgb(217,217,255)" stroke="#000" stroke-width="1"/>
<circle cx="1071.7" cy="275.6" r="3.7" fill="rgb(38,38,255)" stroke="#000" stroke-width="1"/>
<circle cx="1062.4" cy="278.8" r="3.7" fill="rgb(255,204,204)" stroke="#000" stroke-width="1"/>
<circle cx="1071.0" cy="285.6" r="3.7" fill="rgb(255,204,204)" stroke="#000" stroke-width="1"/>
<circle cx="1090.7" cy="276.1" r="3.7" fill="rgb(178,178,255)" stroke="#000" stroke-width="1"/>
<circle cx="1094.6" cy="282.2" r="3.7" fill="rgb(178,178,255)" stroke="#000" stroke-width="1"/>
<circle cx="1127.2" cy="267.1" r="3.7" fill="rgb(140,140,255)" stroke="#000" stroke-width="1"/>
<circle cx="1131.9" cy="272.4" r="3.7" fill="rgb(128,128,255)" stroke="#000" stroke-width="1"/>
<circle cx="1055.1" cy="181.0" r="3.7" fill="rgb(255,128,128)" stroke="#000" stroke-width="1"/>
<circle cx="1064.2" cy="181.1" r="3.7" fill="rgb(255,255,255)" stroke="#000" stroke-width="1"/>
<circle cx="1062.2" cy="187.5" r="3.7" fill="rgb(255,255,255)" stroke="#000" stroke-width="1"/>
<circle cx="1043.8" cy="198.8" r="3.7" fill="rgb(255,102,102)" stroke="#000" stroke-width="1"/>
<circle cx="1046.5" cy="205.6" r="3.7" fill="rgb(255,25,25)" stroke="#000" stroke-width="1"/>
<circle cx="1056.0" cy="201.1" r="3.7" fill="rgb(255,204,204)" stroke="#000" stroke-width="1"/>
<circle cx="1055.6" cy="208.6" r="3.7" fill="rgb(255,204,204)" stroke="#000" stroke-width="1"/>
<circle cx="1053.3" cy="212.7" r="3.7" fill="rgb(255,153,153)" stroke="#000" stroke-width="1"/>
<circle cx="1053.3" cy="220.1" r="3.7" fill="rgb(255,178,178)" stroke="#000" stroke-width="1"/>
<circle cx="1086.4" cy="220.4" r="3.7" fill="rgb(255,178,178)" stroke="#000" stroke-width="1"/>
<circle cx="1101.4" cy="218.8" r="3.7" fill="rgb(255,242,242)" stroke="#000" stroke-width="1"/>
<circle cx="1112.2" cy="214.3" r="3.7" fill="rgb(255,178,178)" stroke="#000" stroke-width="1"/>
<circle cx="1085.0" cy="140.6" r="3.7" fill="rgb(217,217,255)" stroke="#000" stroke-width="1"/>
<circle cx="1131.1" cy="142.0" r="3.7" fill="rgb(128,128,255)" stroke="#000" stroke-width="1"/>
<circle cx="1090.1" cy="147.4" r="3.7" fill="rgb(102,102,255)" stroke="#000" stroke-width="1"/>
<circle cx="1093.2" cy="153.6" r="3.7" fill="rgb(255,191,191)" stroke="#000" stroke-width="1"/>
<circle cx="1072.0" cy="149.5" r="3.7" fill="rgb(255,153,153)" stroke="#000" stroke-width="1"/>
<circle cx="1069.0" cy="156.0" r="3.7" fill="rgb(255,191,191)" stroke="#000" stroke-width="1"/>
<circle cx="1077.4" cy="155.2" r="3.7" fill="rgb(255,242,242)" stroke="#000" stroke-width="1"/>
<circle cx="1057.8" cy="157.7" r="3.7" fill="rgb(255,77,77)" stroke="#000" stroke-width="1"/>
<circle cx="1055.1" cy="164.2" r="3.7" fill="rgb(255,77,77)" stroke="#000" stroke-width="1"/>
<circle cx="1066.5" cy="167.9" r="3.7" fill="rgb(255,204,204)" stroke="#000" stroke-width="1"/>
<circle cx="1057.0" cy="173.7" r="3.7" fill="rgb(255,51,51)" stroke="#000" stroke-width="1"/>
<circle cx="1064.2" cy="174.0" r="3.7" fill="rgb(255,217,217)" stroke="#000" stroke-width="1"/>
<circle cx="1099.2" cy="168.8" r="3.7" fill="rgb(255,204,204)" stroke="#000" stroke-width="1"/>
<circle cx="1096.2" cy="175.6" r="3.7" fill="rgb(255,255,255)" stroke="#000" stroke-width="1"/>
<circle cx="1147.9" cy="164.7" r="3.7" fill="rgb(255,255,255)" stroke="#000" stroke-width="1"/>
<circle cx="1142.0" cy="169.2" r="3.7" fill="rgb(255,217,217)" stroke="#000" stroke-width="1"/>
<circle cx="1154.6" cy="267.7" r="3.7" fill="rgb(255,255,255)" stroke="#000" stroke-width="1"/>
<circle cx="1160.5" cy="271.1" r="3.7" fill="rgb(217,217,255)" stroke="#000" stroke-width="1"/>
<rect x="1389.5" y="59.50" width="22" height="14.71" fill="rgb(0,0,255)"/>
<rect x="1389.5" y="73.91" width="22" height="14.71" fill="rgb(25,25,255)"/>
<rect x="1389.5" y="88.33" width="22" height="14.71" fill="rgb(51,51,255)"/>
<rect x="1389.5" y="102.74" width="22" height="14.71" fill="rgb(77,77,255)"/>
<rect x="1389.5" y="117.16" width="22" height="14.71" fill="rgb(102,102,255)"/>
<rect x="1389.5" y="131.57" width="22" height="14.71" fill="rgb(128,128,255)"/>
<rect x="1389.5" y="145.99" width="22" height="14.71" fill="rgb(153,153,255)"/>
<rect x="1389.5" y="160.40" width="22" height="14.71" fill="rgb(178,178,255)"/>
<rect x="1389.5" y="174.81" width="22" height="14.71" fill="rgb(204,204,255)"/>
<rect x="1389.5" y="189.23" width="22" height="14.71" fill="rgb(230,230,255)"/>
<rect x="1389.5" y="203.64" width="22" height="14.71" fill="rgb(255,255,255)"/>
<rect x="1389.5" y="218.06" width="22" height="14.71" fill="rgb(255,230,230)"/>
<rect x="1389.5" y="232.47" width="22" height="14.71" fill="rgb(255,204,204)"/>
<rect x="1389.5" y="246.89" width="22" height="14.71" fill="rgb(255,178,178)"/>
<rect x="1389.5" y="261.30" width="22" height="14.71" fill="rgb(255,153,153)"/>
<rect x="1389.5" y="275.71" width="22" height="14.71" fill="rgb(255,128,128)"/>
<rect x="1389.5" y="290.13" width="22" height="14.71" fill="rgb(255,102,102)"/>
<rect x="1389.5" y="304.54" width="22" height="14.71" fill="rgb(255,77,77)"/>
<rect x="1389.5" y="318.96" width="22" height="14.71" fill="rgb(255,51,51)"/>
<rect x="1389.5" y="333.37" width="22" height="14.71" fill="rgb(255,25,25)"/>
<rect x="1389.5" y="347.79" width="22" height="14.71" fill="rgb(255,0,0)"/>
<path d="M1389.5 59.5V362.2H1411.5V59.5" fill="none" stroke="#333" stroke-width="1"/>
<g font-family="Liberation Sans, sans-serif" font-weight="bold" fill="#000">
<text x="427.5" y="24.3" font-size="16.6" textLength="149.5" lengthAdjust="spacing" >20260425121101</text>
<text x="63.3" y="46.7" font-size="13" text-anchor="end" letter-spacing="2.3">6.00</text>
<text x="63.3" y="132.1" font-size="13" text-anchor="end" letter-spacing="2.3">5.00</text>
<text x="63.3" y="222.1" font-size="13" text-anchor="end" letter-spacing="2.3">4.00</text>
<text x="63.3" y="312.1" font-size="13" text-anchor="end" letter-spacing="2.3">3.00</text>
<text x="63.3" y="397.7" font-size="13" text-anchor="end" letter-spacing="2.3">2.00</text>
<text x="566" y="46.7" font-size="13" text-anchor="end" letter-spacing="2.3">2.00</text>
<text x="566" y="132.1" font-size="13" text-anchor="end" letter-spacing="2.3">1.00</text>
<text x="566" y="222.1" font-size="13" text-anchor="end" letter-spacing="2.3">0.00</text>
<text x="566" y="312.1" font-size="13" text-anchor="end" letter-spacing="2.3">-1.00</text>
<text x="566" y="397.7" font-size="13" text-anchor="end" letter-spacing="2.3">-2.00</text>
<text x="133.9" y="415.2" font-size="13" text-anchor="middle" letter-spacing="1.4">100</text>
<text x="193.9" y="415.2" font-size="13" text-anchor="middle" letter-spacing="1.4">200</text>
<text x="253.9" y="415.2" font-size="13" text-anchor="middle" letter-spacing="1.4">300</text>
<text x="313.9" y="415.2" font-size="13" text-anchor="middle" letter-spacing="1.4">400</text>
<text x="373.9" y="415.2" font-size="13" text-anchor="middle" letter-spacing="1.4">500</text>
<text x="122.3" y="437" font-size="15.5" textLength="257" lengthAdjust="spacing" >Hypocentral distance (km)</text>
<text x="637.9" y="415.2" font-size="13" text-anchor="middle" letter-spacing="1.4">100</text>
<text x="697.9" y="415.2" font-size="13" text-anchor="middle" letter-spacing="1.4">200</text>
<text x="757.9" y="415.2" font-size="13" text-anchor="middle" letter-spacing="1.4">300</text>
<text x="817.9" y="415.2" font-size="13" text-anchor="middle" letter-spacing="1.4">400</text>
<text x="877.9" y="415.2" font-size="13" text-anchor="middle" letter-spacing="1.4">500</text>
<text x="626.3" y="437" font-size="15.5" textLength="257" lengthAdjust="spacing" >Hypocentral distance (km)</text>
<text transform="translate(12 269.6) rotate(-90)" font-size="15.3" textLength="102" lengthAdjust="spacing">ML(IASPEI)</text>
<text transform="translate(507.9 279.6) rotate(-90)" font-size="15.3" textLength="121.5" lengthAdjust="spacing">ML - ML(evt)</text>
<text x="115" y="384.2" font-size="11" textLength="293" lengthAdjust="spacing" >log A(nm) + 1.11 log R + 0.00189 R - 2.09</text>
<text x="619.5" y="384.2" font-size="11" textLength="293" lengthAdjust="spacing" >log A(nm) + 1.11 log R + 0.00167 R - 2.09</text>
<text x="749.5" y="96.1" font-size="16.5" textLength="83.5" lengthAdjust="spacing" >ML= 3.59</text>
<circle cx="604.7" cy="356.1" r="3.7" fill="#f00" stroke="#000" stroke-width="1.5"/>
<circle cx="604.7" cy="366.3" r="3.7" fill="#00f" stroke="#000" stroke-width="1.5"/>
<text x="625.8" y="359.9" font-size="10.3" textLength="222" lengthAdjust="spacing" >25%-75% values for trimmed mean</text>
<text x="626" y="369.7" font-size="10.3" textLength="107" lengthAdjust="spacing" >Rejected values</text>
<text transform="translate(1181.6 15.9) scale(0.86 1)" font-size="24">N</text>
<text x="1389.5" y="52.5" font-size="11.5" textLength="22" lengthAdjust="spacing" >Res</text>
<text x="1418" y="69.20714285714286" font-size="7" letter-spacing="1.8">1.0</text>
<text x="1418" y="98.03571428571428" font-size="7" letter-spacing="1.8">0.8</text>
<text x="1418" y="126.86428571428571" font-size="7" letter-spacing="1.8">0.6</text>
<text x="1418" y="155.69285714285715" font-size="7" letter-spacing="1.8">0.4</text>
<text x="1418" y="184.52142857142857" font-size="7" letter-spacing="1.8">0.2</text>
<text x="1418" y="213.35" font-size="7" letter-spacing="1.8">0.0</text>
<text x="1418" y="242.17857142857144" font-size="7" letter-spacing="1.8">-0.2</text>
<text x="1418" y="271.00714285714287" font-size="7" letter-spacing="1.8">-0.4</text>
<text x="1418" y="299.8357142857143" font-size="7" letter-spacing="1.8">-0.6</text>
<text x="1418" y="328.6642857142857" font-size="7" letter-spacing="1.8">-0.8</text>
<text x="1418" y="357.49285714285713" font-size="7" letter-spacing="1.8">-1.0</text>
<text x="1019.5" y="411.8" font-size="10" textLength="336" lengthAdjust="spacing" >Residuals as a function of azimuth and distance</text>
<text x="1012.5" y="422.6" font-size="10" textLength="349.5" lengthAdjust="spacing" >Center (10km), Circle at 30, 100, 300 and 1000 km</text>
</g>
</svg></body></html>
